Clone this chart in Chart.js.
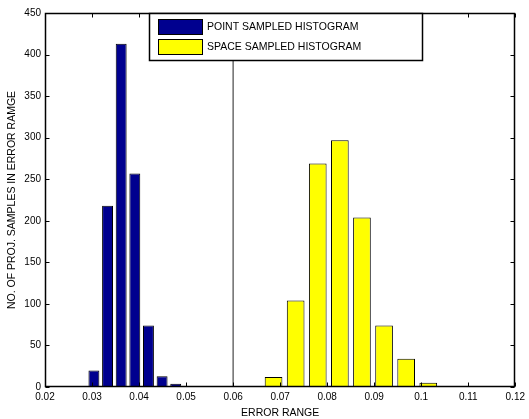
<!DOCTYPE html>
<html>
<head>
<meta charset="utf-8">
<script src="https://cdn.jsdelivr.net/npm/chart.js@4/dist/chart.umd.min.js"></script>
<style>
  html, body { margin: 0; padding: 0; background: #fff; }
  #wrap { width: 529px; height: 419px; }
</style>
</head>
<body>
<div id="wrap"><canvas id="histChart"></canvas></div>
<script>
// Data
const pointBins = [0.0304, 0.0333, 0.0362, 0.0391, 0.042, 0.0449, 0.0478, 0.0507, 0.0536, 0.0565];
const pointCounts = [20, 218, 413, 257, 74, 13, 4, 0, 0, 1];

const spaceBins = [0.0686, 0.0733, 0.078, 0.0827, 0.0874, 0.0921, 0.0968, 0.1015, 0.1062, 0.1109];
const spaceCounts = [12, 104, 269, 297, 204, 74, 34, 5, 0, 1];

const markerX = [0.06, 0.06];
const markerY = [0, 450];

const xRange = [0.02, 0.12];
const yRange = [0, 450];

const FONT = "'Liberation Sans', Arial, sans-serif";

function toPoints(xs, ys) {
  return xs.map((x, i) => ({ x: x, y: ys[i] }));
}

// box round the plot, inward ticks on all four sides, boxed legend
const matlabFrame = {
  id: "matlabFrame",
  afterDatasetsDraw(chart) {
    const { ctx, chartArea: a, scales } = chart;
    const L = Math.round(a.left) + 0.5;
    const R = Math.round(a.right) - 0.5;
    const T = Math.round(a.top) + 0.5;
    const B = Math.round(a.bottom) - 0.5;
    const tick = 4;

    ctx.save();
    ctx.strokeStyle = "#000";
    ctx.lineWidth = 1;
    ctx.beginPath();
    scales.x.ticks.forEach((t) => {
      const px = Math.round(scales.x.getPixelForValue(t.value)) + 0.5;
      ctx.moveTo(px, B);
      ctx.lineTo(px, B - tick);
      ctx.moveTo(px, T);
      ctx.lineTo(px, T + tick);
    });
    scales.y.ticks.forEach((t) => {
      const py = Math.round(scales.y.getPixelForValue(t.value)) + 0.5;
      ctx.moveTo(L, py);
      ctx.lineTo(L + tick, py);
      ctx.moveTo(R, py);
      ctx.lineTo(R - tick, py);
    });
    ctx.stroke();

    ctx.lineWidth = 1.5;
    ctx.strokeRect(L, T, R - L, B - T);

    // legend
    const bars = chart.data.datasets.filter((d) => d.type !== "line");
    const lx = 149.5, ly = T, lw = 273, lh = 47;
    ctx.fillStyle = "#fff";
    ctx.fillRect(lx, ly, lw, lh);
    ctx.lineWidth = 1.5;
    ctx.strokeStyle = "#000";
    ctx.strokeRect(lx, ly, lw, lh);

    ctx.font = "10.5px " + FONT;
    ctx.textBaseline = "middle";
    ctx.lineWidth = 1;
    bars.forEach((d, i) => {
      const sy = 19.5 + i * 20;
      ctx.fillStyle = d.backgroundColor;
      ctx.fillRect(158.5, sy, 44, 15);
      ctx.strokeRect(158.5, sy, 44, 15);
      ctx.fillStyle = "#000";
      ctx.fillText(d.label, 207, sy + 8);
    });
    ctx.restore();
  },
};

function renderHistogram() {
  const ctx = document.getElementById("histChart").getContext("2d");
  new Chart(ctx, {
    type: "bar",
    data: {
      datasets: [
        {
          type: "line",
          label: "threshold",
          data: toPoints(markerX, markerY),
          xAxisID: "x",
          borderColor: "#222",
          borderWidth: 1,
          pointRadius: 0,
          order: 3,
        },
        {
          label: "POINT SAMPLED HISTOGRAM",
          data: toPoints(pointBins, pointCounts),
          xAxisID: "x",
          backgroundColor: "#00008f",
          borderColor: "#000",
          borderWidth: 1,
          grouped: false,
          barPercentage: 0.8,
          categoryPercentage: 1,
          order: 1,
        },
        {
          label: "SPACE SAMPLED HISTOGRAM",
          data: toPoints(spaceBins, spaceCounts),
          xAxisID: "x2",
          backgroundColor: "#ffff00",
          borderColor: "#000",
          borderWidth: 1,
          grouped: false,
          barPercentage: 0.8,
          categoryPercentage: 1,
          order: 2,
        },
      ],
    },
    options: {
      responsive: true,
      maintainAspectRatio: false,
      animation: false,
      layout: { padding: { top: 13, right: 11, left: 0, bottom: 0 } },
      plugins: {
        legend: { display: false },
        tooltip: { enabled: false },
      },
      scales: {
        x: {
          type: "linear",
          min: xRange[0],
          max: xRange[1],
          offset: false,
          grid: { display: false, drawTicks: false },
          border: { display: false },
          ticks: {
            stepSize: 0.01,
            padding: 4,
            maxRotation: 0,
            color: "#000",
            font: { family: FONT, size: 10 },
            callback: (v) => String(Math.round(v * 100) / 100),
          },
          title: {
            display: true,
            text: "ERROR RANGE",
            color: "#000",
            font: { family: FONT, size: 10.5 },
            padding: { top: 2, bottom: 0 },
          },
          afterFit: (scale) => { scale.height = 32; },
        },
        x2: {
          type: "linear",
          display: false,
          min: xRange[0],
          max: xRange[1],
          offset: false,
        },
        y: {
          min: yRange[0],
          max: yRange[1],
          grid: { display: false, drawTicks: false },
          border: { display: false },
          ticks: {
            stepSize: 50,
            padding: 4,
            color: "#000",
            font: { family: FONT, size: 10 },
          },
          title: {
            display: true,
            text: "NO. OF PROJ. SAMPLES IN ERROR RAMGE",
            color: "#000",
            font: { family: FONT, size: 10.5 },
            padding: { top: 6, bottom: 0 },
          },
          afterFit: (scale) => { scale.width = 45; },
        },
      },
    },
    plugins: [matlabFrame],
  });
}

document.addEventListener("DOMContentLoaded", renderHistogram);
</script>
</body>
</html>
